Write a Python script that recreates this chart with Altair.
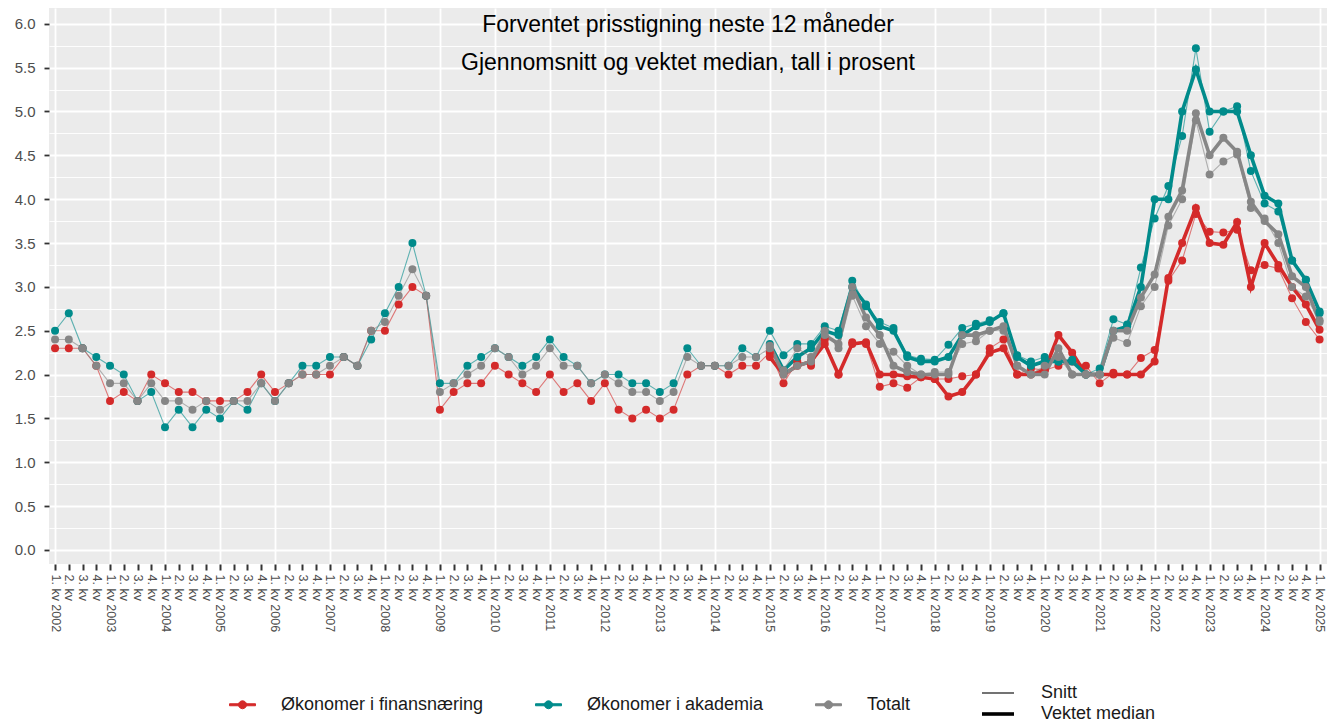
import json
import altair as alt
import pandas as pd

# ---------------- data ----------------
years = list(range(2002, 2026))
quarters = list(range(93))  # 0 = 1. kv 2002 ... 92 = 1. kv 2025
quarter_labels = [f"{q % 4 + 1}. kv" + (f" {years[q // 4]}" if q % 4 == 0 else "") for q in quarters]

series_names = ["Økonomer i finansnæring", "Økonomer i akademia", "Totalt"]
type_names = ["Snitt", "Vektet median"]
colors = ["#d42a2a", "#008b8b", "#868686"]
median_start = 52  # vektet median from 1. kv 2015

fin_snitt = [2.3, 2.3, 2.3, 2.1, 1.7, 1.8, 1.7, 2.0, 1.9, 1.8, 1.8, 1.7, 1.7, 1.7, 1.8, 2.0,
             1.8, 1.9, 2.0, 2.0, 2.0, 2.2, 2.1, 2.5, 2.5, 2.8, 3.0, 2.9, 1.6, 1.8, 1.9, 1.9,
             2.1, 2.0, 1.9, 1.8, 2.0, 1.8, 1.9, 1.7, 1.9, 1.6, 1.5, 1.6, 1.5, 1.6, 2.0, 2.1,
             2.1, 2.0, 2.1, 2.1,
             2.25, 1.9, 2.15, 2.1, 2.4, 2.0, 2.37, 2.35, 1.86, 1.9, 1.85, 1.97, 1.95, 1.95,
             1.98, 2.0, 2.3, 2.4, 2.0, 2.07, 2.05, 2.1, 2.15, 2.1, 1.9, 2.02, 2.0, 2.19, 2.28,
             3.07, 3.3, 3.83, 3.63, 3.62, 3.65, 3.19, 3.25, 3.21, 2.87, 2.6, 2.4]
aka_snitt = [2.5, 2.7, 2.3, 2.2, 2.1, 2.0, 1.7, 1.8, 1.4, 1.6, 1.4, 1.6, 1.5, 1.7, 1.6, 1.9,
             1.7, 1.9, 2.1, 2.1, 2.2, 2.2, 2.1, 2.4, 2.7, 3.0, 3.5, 2.9, 1.9, 1.9, 2.1, 2.2,
             2.3, 2.2, 2.1, 2.2, 2.4, 2.2, 2.1, 1.9, 2.0, 2.0, 1.9, 1.9, 1.8, 1.9, 2.3, 2.1,
             2.1, 2.1, 2.3, 2.2,
             2.5, 2.22, 2.35, 2.35, 2.55, 2.5, 3.07, 2.78, 2.6, 2.53, 2.22, 2.18, 2.17, 2.34,
             2.53, 2.58, 2.62, 2.7, 2.22, 2.15, 2.2, 2.15, 2.17, 2.0, 2.07, 2.63, 2.57, 3.22,
             3.78, 4.15, 4.72, 5.72, 4.77, 5.0, 5.06, 4.32, 3.95, 3.86, 3.3, 3.08, 2.7]
tot_snitt = [2.4, 2.4, 2.3, 2.1, 1.9, 1.9, 1.7, 1.9, 1.7, 1.7, 1.6, 1.7, 1.6, 1.7, 1.7, 1.9,
             1.7, 1.9, 2.0, 2.0, 2.1, 2.2, 2.1, 2.5, 2.6, 2.9, 3.2, 2.9, 1.8, 1.9, 2.0, 2.1,
             2.3, 2.2, 2.0, 2.1, 2.3, 2.1, 2.1, 1.9, 2.0, 1.9, 1.8, 1.8, 1.7, 1.8, 2.2, 2.1,
             2.1, 2.1, 2.2, 2.2,
             2.3, 2.05, 2.3, 2.2, 2.5, 2.3, 2.9, 2.55, 2.35, 2.26, 2.1, 2.0, 2.03, 2.03,
             2.35, 2.38, 2.5, 2.5, 2.1, 2.0, 2.1, 2.2, 2.0, 2.0, 2.0, 2.42, 2.36, 2.78,
             3.0, 3.7, 4.0, 4.9, 4.28, 4.43, 4.51, 3.9, 3.78, 3.5, 3.0, 2.89, 2.62]

fin_median = [2.2, 2.0, 2.1, 2.15, 2.35, 2.0, 2.35, 2.37, 2.0, 2.0, 1.98, 1.97, 1.95, 1.75,
              1.8, 2.0, 2.25, 2.3, 2.0, 2.0, 2.05, 2.45, 2.25, 2.0, 2.0, 2.0, 2.0, 2.0, 2.15,
              3.1, 3.5, 3.9, 3.5, 3.48, 3.74, 3.0, 3.5, 3.25, 3.0, 2.8, 2.51]
aka_median = [2.35, 2.05, 2.2, 2.3, 2.5, 2.45, 3.0, 2.8, 2.55, 2.5, 2.2, 2.15, 2.15, 2.2,
              2.45, 2.55, 2.6, 2.7, 2.2, 2.1, 2.15, 2.15, 2.15, 2.0, 2.0, 2.5, 2.55, 3.0,
              4.0, 4.0, 5.0, 5.48, 5.0, 5.0, 5.0, 4.5, 4.04, 3.95, 3.3, 3.08, 2.72]
tot_median = [2.33, 2.0, 2.1, 2.15, 2.45, 2.35, 3.0, 2.65, 2.45, 2.1, 2.03, 2.0, 2.0, 2.0,
              2.45, 2.45, 2.5, 2.55, 2.1, 2.0, 2.0, 2.3, 2.0, 2.0, 2.0, 2.5, 2.5, 2.88,
              3.14, 3.8, 4.1, 4.98, 4.5, 4.7, 4.54, 3.97, 3.75, 3.6, 3.12, 3.0, 2.6]

y_ticks = [k * 0.25 for k in range(25)]
titles = ["Forventet prisstigning neste 12 måneder",
          "Gjennomsnitt og vektet median, tall i prosent"]

# ---------------- table ----------------
rows = []
for name, snitt, median in zip(series_names,
                                [fin_snitt, aka_snitt, tot_snitt],
                                [fin_median, aka_median, tot_median]):
    for q, v in zip(quarters, snitt):
        rows.append({"serie": name, "type": type_names[0], "q": q, "value": v})
    for q, v in zip(quarters[median_start:], median):
        rows.append({"serie": name, "type": type_names[1], "q": q, "value": v})
df = pd.DataFrame(rows)

FONT = "Liberation Sans"
major_test = "datum.value * 2 == round(datum.value * 2)"
year_test = "datum.value % 4 == 0"

x_enc = alt.X(
    "q:Q",
    scale=alt.Scale(domain=[-0.44, 92.54], nice=False, zero=False),
    axis=alt.Axis(
        values=quarters,
        labelExpr=f"{json.dumps(quarter_labels)}[datum.value]",
        labelAngle=90, labelAlign="left", labelBaseline="middle",
        labelFontSize=12.5, labelColor="#4d4d4d", labelFont=FONT,
        labelOverlap=False, labelFlush=False, labelPadding=4,
        tickColor="#333333", tickWidth=2, tickSize=6,
        gridColor="white",
        gridWidth={"condition": {"test": year_test, "value": 1.8}, "value": 0},
        domain=False, title=None,
    ),
)
y_enc = alt.Y(
    "value:Q",
    scale=alt.Scale(domain=[-0.16, 6.18], nice=False, zero=False),
    axis=alt.Axis(
        values=y_ticks,
        labelExpr=f"{major_test} ? format(datum.value, '.1f') : ''",
        labelFontSize=15, labelColor="#4d4d4d", labelFont=FONT, labelPadding=9,
        tickColor="#333333", tickWidth=1.8, tickSize=5,
        tickOpacity={"condition": {"test": major_test, "value": 1}, "value": 0},
        gridColor="white",
        gridWidth={"condition": {"test": major_test, "value": 1.8}, "value": 0.9},
        domain=False, title=None, minExtent=41, maxExtent=41,
    ),
)

color_scale = alt.Scale(domain=series_names, range=colors)
key_path = ("M-1.3,-0.1L1.3,-0.1L1.3,0.1L-1.3,0.1Z"
            "M0.4,0L0.35,0.2L0.2,0.35L0,0.4L-0.2,0.35L-0.35,0.2L-0.4,0"
            "L-0.35,-0.2L-0.2,-0.35L0,-0.4L0.2,-0.35L0.35,-0.2Z")
color_legend = alt.Legend(
    title=None, orient="none", legendX=183, legendY=686, direction="horizontal",
    symbolType=key_path, symbolSize=400, symbolStrokeWidth=1,
    labelFontSize=18, labelFont=FONT, labelColor="#1a1a1a", labelLimit=400,
    labelOffset=28, columnPadding=49, padding=0,
)
width_legend = alt.Legend(
    title=None, orient="none", legendX=939, legendY=676, direction="vertical",
    symbolType="M-2,0H2", symbolSize=256, symbolStrokeColor="black",
    symbolFillColor="transparent",
    labelFontSize=18, labelFont=FONT, labelColor="#1a1a1a", labelLimit=400,
    labelOffset=33, rowPadding=2, padding=0,
)

lines = alt.Chart(df).mark_line().encode(
    x=x_enc, y=y_enc,
    stroke=alt.Stroke("serie:N", scale=color_scale, legend=color_legend),
    strokeWidth=alt.StrokeWidth("type:O", scale=alt.Scale(domain=type_names, range=[1.1, 3.6]),
                                legend=width_legend),
    strokeOpacity=alt.StrokeOpacity("type:O", scale=alt.Scale(domain=type_names, range=[0.6, 1.0]),
                                    legend=None),
)

points = alt.Chart(df).mark_point(filled=True, size=64, opacity=1).encode(
    x=x_enc, y=y_enc,
    color=alt.Color("serie:N", scale=color_scale, legend=color_legend),
)

title_df1 = pd.DataFrame({"t": [titles[0]]})
title_df2 = pd.DataFrame({"t": [titles[1]]})
t1 = alt.Chart(title_df1).mark_text(font=FONT, fontSize=23, color="black", align="center",
                                    baseline="alphabetic").encode(
    text="t:N", x=alt.value(639), y=alt.value(24))
t2 = alt.Chart(title_df2).mark_text(font=FONT, fontSize=23, color="black", align="center",
                                    baseline="alphabetic").encode(
    text="t:N", x=alt.value(639), y=alt.value(62))

chart = alt.layer(lines, points, t1, t2).properties(
    width=1278, height=556,
    padding={"left": 0, "top": 0, "right": 0, "bottom": 0},
).configure(
    font=FONT,
).configure_view(
    fill="#ebebeb", strokeWidth=0,
)

chart.save("out.html", embed_options={"renderer": "svg", "actions": False})
